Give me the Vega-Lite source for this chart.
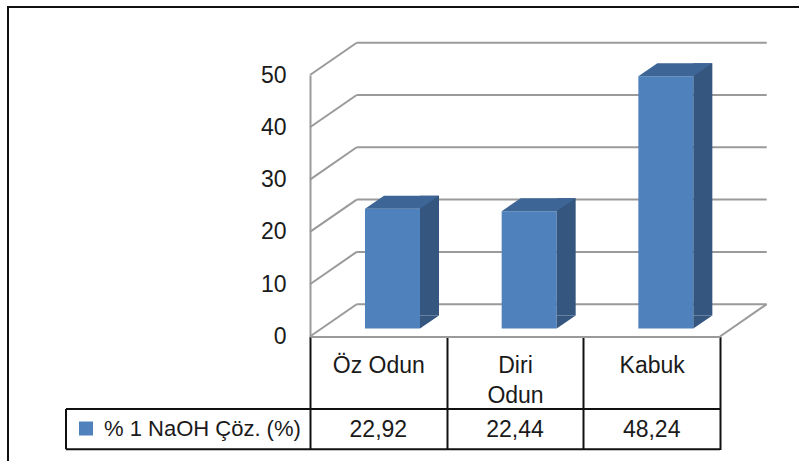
{
  "$schema": "https://vega.github.io/schema/vega-lite/v6.json",
  "autosize": {"type": "none"},
  "padding": {"left": 8, "top": 7, "right": 0, "bottom": 0},
  "width": 791,
  "height": 454,
  "background": "#ffffff",
  "config": {
    "locale": {"number": {"decimal": ",", "thousands": ".", "grouping": [3], "currency": ["", " TL"]}},
    "font": "Liberation Sans",
    "view": {"stroke": "#111111", "strokeWidth": 2, "strokeDash": [791, 1245, 454]},
    "axis": {"labelFont": "Liberation Sans", "labelFontSize": 23, "labelColor": "#1a1a1a", "title": null, "grid": false}
  },
  "datasets": {
    "olcum": [
      {"kategori": "Öz Odun", "seri": "% 1 NaOH Çöz. (%)", "deger": 22.92},
      {"kategori": "Diri Odun", "seri": "% 1 NaOH Çöz. (%)", "deger": 22.44},
      {"kategori": "Kabuk", "seri": "% 1 NaOH Çöz. (%)", "deger": 48.24}
    ],
    "izgara": [{"v": 0}, {"v": 10}, {"v": 20}, {"v": 30}, {"v": 40}, {"v": 50}]
  },
  "data": {"name": "olcum"},
  "encoding": {
    "x": {
      "field": "kategori", "type": "nominal",
      "scale": {"type": "band", "domain": ["Öz Odun", "Diri Odun", "Kabuk"], "range": [302, 712], "paddingInner": 0, "paddingOuter": 0},
      "axis": {
        "orient": "bottom", "offset": -124.5,
        "domainColor": "#9a9a9a", "domainWidth": 2,
        "ticks": true, "tickBand": "extent", "tickColor": "#111111", "tickWidth": 2, "tickSize": 113,
        "labelPadding": -77.5, "labelBaseline": "alphabetic", "labelAngle": 0, "labelLineHeight": 30,
        "labelExpr": "length(datum.label) > 8 ? split(datum.label, ' ') : datum.label",
        "labelOverlap": false, "labelFlush": false, "labelLimit": 0
      }
    }
  },
  "layer": [
    {
      "data": {"name": "izgara"},
      "mark": {"type": "rule", "color": "#9a9a9a", "strokeWidth": 2, "xOffset": 46.7, "x2Offset": 46.7, "yOffset": -32.3},
      "encoding": {
        "x": {"datum": "Öz Odun", "bandPosition": 0},
        "x2": {"datum": "Kabuk", "bandPosition": 1},
        "y": {
          "field": "v", "type": "quantitative",
          "scale": {"domain": [0, 50], "range": [329.5, 68], "nice": false, "zero": true},
          "axis": {
            "orient": "left", "offset": -302, "values": [0, 10, 20, 30, 40, 50],
            "domainColor": "#9a9a9a", "domainWidth": 2, "ticks": false, "labelPadding": 24
          }
        }
      }
    },
    {
      "data": {"name": "izgara"},
      "mark": {"type": "rule", "color": "#9a9a9a", "strokeWidth": 2, "x2Offset": 46.7, "y2Offset": -32.3},
      "encoding": {
        "x": {"datum": "Öz Odun", "bandPosition": 0},
        "x2": {"datum": "Öz Odun", "bandPosition": 0},
        "y": {"field": "v", "type": "quantitative"},
        "y2": {"field": "v"}
      }
    },
    {
      "transform": [{"filter": "datum.kategori == 'Kabuk'"}],
      "mark": {"type": "rule", "color": "#9a9a9a", "strokeWidth": 2, "x2Offset": 46.7, "y2Offset": -32.3},
      "encoding": {
        "x": {"datum": "Kabuk", "bandPosition": 1},
        "x2": {"datum": "Kabuk", "bandPosition": 1},
        "y": {"datum": 0, "type": "quantitative"},
        "y2": {"datum": 0}
      }
    },
    {
      "mark": {"type": "bar", "width": 55, "xOffset": 14.17, "yOffset": -8, "y2Offset": -8},
      "encoding": {
        "y": {"field": "deger", "type": "quantitative"},
        "y2": {"datum": 0},
        "color": {
          "field": "seri", "type": "nominal",
          "scale": {"range": ["#4f81bd"]},
          "legend": {
            "orient": "none", "legendX": 67, "legendY": 410.5, "title": null,
            "symbolType": "square", "symbolSize": 196, "symbolStrokeWidth": 0, "symbolOpacity": 1,
            "labelFont": "Liberation Sans", "labelFontSize": 22, "labelColor": "#1a1a1a",
            "labelOffset": 7, "padding": 0, "labelLimit": 0
          }
        }
      }
    },
    {
      "mark": {"type": "bar", "width": 19, "color": "#34567f", "xOffset": 51.17, "yOffset": -21, "y2Offset": -21},
      "encoding": {
        "y": {"field": "deger", "type": "quantitative"},
        "y2": {"datum": 0}
      }
    },
    {
      "mark": {"type": "point", "shape": "M0,0L0,-13L19,-13Z", "size": 4, "filled": true, "opacity": 1, "strokeWidth": 0, "color": "#34567f", "xOffset": 41.67, "yOffset": -8},
      "encoding": {
        "y": {"datum": 0, "type": "quantitative"}
      }
    },
    {
      "mark": {"type": "point", "shape": "M0,0L55,0L74,-13L19,-13Z", "size": 4, "filled": true, "opacity": 1, "strokeWidth": 0, "color": "#3d6596", "xOffset": -13.33, "yOffset": -8},
      "encoding": {
        "y": {"field": "deger", "type": "quantitative"}
      }
    },
    {
      "transform": [{"filter": "datum.kategori == 'Kabuk'"}],
      "mark": {"type": "rule", "color": "#111111", "strokeWidth": 2, "xOffset": -244, "yOffset": 72.5},
      "encoding": {
        "x": {"datum": "Öz Odun", "bandPosition": 0},
        "x2": {"datum": "Kabuk", "bandPosition": 1},
        "y": {"datum": 0, "type": "quantitative"}
      }
    },
    {
      "transform": [{"filter": "datum.kategori == 'Kabuk'"}],
      "mark": {"type": "rule", "color": "#111111", "strokeWidth": 2, "xOffset": -244, "yOffset": 112.8},
      "encoding": {
        "x": {"datum": "Öz Odun", "bandPosition": 0},
        "x2": {"datum": "Kabuk", "bandPosition": 1},
        "y": {"datum": 0, "type": "quantitative"}
      }
    },
    {
      "transform": [{"filter": "datum.kategori == 'Kabuk'"}],
      "mark": {"type": "rule", "color": "#111111", "strokeWidth": 2, "xOffset": -244, "yOffset": 72.5, "y2Offset": 112.8},
      "encoding": {
        "x": {"datum": "Öz Odun", "bandPosition": 0},
        "y": {"datum": 0, "type": "quantitative"},
        "y2": {"datum": 0}
      }
    },
    {
      "mark": {"type": "text", "align": "center", "baseline": "alphabetic", "fontSize": 23, "color": "#1a1a1a", "yOffset": 100.5},
      "encoding": {
        "y": {"datum": 0, "type": "quantitative"},
        "text": {"field": "deger", "type": "quantitative", "format": ".2f"}
      }
    }
  ]
}
